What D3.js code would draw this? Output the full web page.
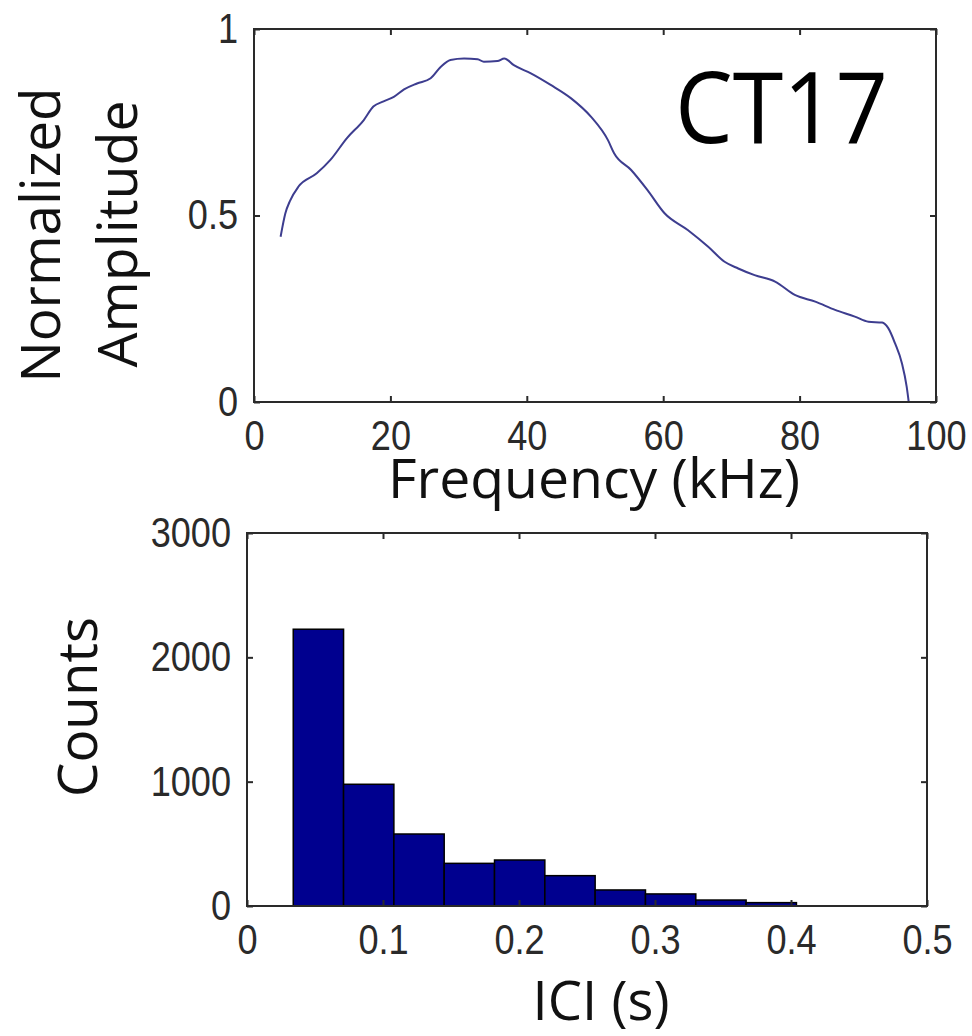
<!DOCTYPE html>
<html>
<head>
<meta charset="utf-8">
<script src="https://cdn.jsdelivr.net/npm/d3@7"></script>
<style>
  html, body { margin: 0; padding: 0; background: #fff; }
  svg { display: block; }
</style>
</head>
<body>
<svg id="chart" width="972" height="1036"></svg>
<script>
// ---------- data ----------
const freqKHz = [3.9, 4.6, 5.3, 6.5, 9.2, 11.2, 13.6, 16.1, 17.5, 19, 20.5, 22, 23.9, 25.9, 27.4, 28.8, 30.8, 32.8, 33.7, 35.7, 36.7, 38.1, 40.6, 43.5, 46.5, 49.4, 51.9, 52.8, 55.3, 57.7, 60.2, 63.6, 66.6, 69, 71, 73.4, 76.4, 79.3, 82.3, 85.2, 88.1, 90.1, 92.1, 93, 94, 95, 95.7, 96];
const amplitude = [0.443, 0.506, 0.54, 0.577, 0.613, 0.649, 0.707, 0.756, 0.792, 0.806, 0.818, 0.838, 0.854, 0.868, 0.899, 0.917, 0.921, 0.919, 0.912, 0.914, 0.921, 0.903, 0.881, 0.85, 0.814, 0.765, 0.702, 0.667, 0.622, 0.568, 0.506, 0.461, 0.416, 0.376, 0.358, 0.34, 0.323, 0.287, 0.269, 0.247, 0.229, 0.215, 0.213, 0.198, 0.157, 0.104, 0.041, 0.0];

const iciBinStart = [0.034, 0.071, 0.108, 0.145, 0.182, 0.219, 0.256, 0.293, 0.330, 0.367];
const iciBinEnd   = [0.071, 0.108, 0.145, 0.182, 0.219, 0.256, 0.293, 0.330, 0.367, 0.404];
const iciCounts   = [2226, 979, 579, 343, 370, 244, 129, 97, 48, 27];

const freqTicks = [0, 20, 40, 60, 80, 100];
const ampTicks = [0, 0.5, 1];
const iciTicks = [0, 0.1, 0.2, 0.3, 0.4, 0.5];
const countTicks = [0, 1000, 2000, 3000];

const titleText = "CT17";

// ---------- layout ----------
const svg = d3.select("#chart");
const TICK_FONT = "'Liberation Sans Narrow', 'Liberation Sans', Arial, sans-serif";
const LABEL_FONT = "'Open Sans', 'Noto Sans', sans-serif";

function drawFrame(g, x, y, xTicks, yTicks, xFmt, yFmt) {
  const [x0, x1] = x.range();
  const [y0, y1] = y.range(); // y0 bottom, y1 top
  const styleAxis = sel => {
    sel.select(".domain").remove();
    sel.selectAll("line").attr("stroke", "#2a2a2a").attr("stroke-width", 2);
    sel.selectAll("text")
      .attr("font-family", TICK_FONT)
      .attr("font-size", 42)
      .attr("fill", "#2a2a2a")
      .each(function () {
        const w = this.getComputedTextLength();
        if (w > 0) {
          d3.select(this)
            .attr("textLength", w * 0.86)
            .attr("lengthAdjust", "spacingAndGlyphs");
        }
      });
  };
  g.append("g").attr("transform", `translate(0,${y0})`)
    .call(d3.axisBottom(x).tickValues(xTicks).tickFormat(xFmt).tickSize(-6).tickPadding(18))
    .call(styleAxis);
  g.append("g").attr("transform", `translate(0,${y1})`)
    .call(d3.axisTop(x).tickValues(xTicks).tickFormat("").tickSize(-6))
    .call(styleAxis);
  g.append("g").attr("transform", `translate(${x0},0)`)
    .call(d3.axisLeft(y).tickValues(yTicks).tickFormat(yFmt).tickSize(-6).tickPadding(16))
    .call(styleAxis);
  g.append("g").attr("transform", `translate(${x1},0)`)
    .call(d3.axisRight(y).tickValues(yTicks).tickFormat("").tickSize(-6))
    .call(styleAxis);
  g.append("rect")
    .attr("x", x0).attr("y", y1)
    .attr("width", x1 - x0).attr("height", y0 - y1)
    .attr("fill", "none").attr("stroke", "#2a2a2a").attr("stroke-width", 2);
}

// ---------- top panel: spectrum ----------
const xF = d3.scaleLinear().domain([0, 100]).range([254, 936]);
const yA = d3.scaleLinear().domain([0, 1]).range([402, 29]);
const topG = svg.append("g");

const spec = freqKHz.map((f, i) => ({ f, a: amplitude[i] }));
topG.append("path")
  .datum(spec)
  .attr("fill", "none")
  .attr("stroke", "#3d3d8f")
  .attr("stroke-width", 2)
  .attr("stroke-linejoin", "round")
  .attr("d", d3.line().x(d => xF(d.f)).y(d => yA(d.a)).curve(d3.curveMonotoneX));

drawFrame(topG, xF, yA, freqTicks, ampTicks, d3.format("d"), d => d === 0.5 ? "0.5" : String(d));

topG.append("text")
  .attr("x", 675).attr("y", 143)
  .attr("font-family", LABEL_FONT).attr("font-size", 98)
  .attr("textLength", 213).attr("lengthAdjust", "spacingAndGlyphs")
  .attr("fill", "#000")
  .text(titleText);

topG.append("text")
  .attr("transform", "translate(60,235) rotate(-90)")
  .attr("text-anchor", "middle")
  .attr("font-family", LABEL_FONT).attr("font-size", 55)
  .attr("textLength", 295).attr("lengthAdjust", "spacingAndGlyphs")
  .attr("fill", "#111")
  .text("Normalized");
topG.append("text")
  .attr("transform", "translate(137,234) rotate(-90)")
  .attr("text-anchor", "middle")
  .attr("font-family", LABEL_FONT).attr("font-size", 55)
  .attr("textLength", 267).attr("lengthAdjust", "spacingAndGlyphs")
  .attr("fill", "#111")
  .text("Amplitude");
topG.append("text")
  .attr("x", 594).attr("y", 498)
  .attr("text-anchor", "middle")
  .attr("font-family", LABEL_FONT).attr("font-size", 55)
  .attr("textLength", 412).attr("lengthAdjust", "spacingAndGlyphs")
  .attr("fill", "#111")
  .text("Frequency (kHz)");

// ---------- bottom panel: ICI histogram ----------
const xI = d3.scaleLinear().domain([0, 0.5]).range([247, 927]);
const yC = d3.scaleLinear().domain([0, 3000]).range([906, 533]);
const botG = svg.append("g");

const bins = iciCounts.map((c, i) => ({ s: iciBinStart[i], e: iciBinEnd[i], c }));
botG.selectAll("rect.bar")
  .data(bins)
  .join("rect")
  .attr("class", "bar")
  .attr("x", d => xI(d.s))
  .attr("y", d => yC(d.c))
  .attr("width", d => xI(d.e) - xI(d.s))
  .attr("height", d => yC(0) - yC(d.c))
  .attr("fill", "#00008f")
  .attr("stroke", "#000")
  .attr("stroke-width", 1.5);

drawFrame(botG, xI, yC, iciTicks, countTicks, d => d === 0 ? "0" : d3.format(".1f")(d), d3.format("d"));

botG.append("text")
  .attr("transform", "translate(97,707) rotate(-90)")
  .attr("text-anchor", "middle")
  .attr("font-family", LABEL_FONT).attr("font-size", 55)
  .attr("textLength", 180).attr("lengthAdjust", "spacingAndGlyphs")
  .attr("fill", "#111")
  .text("Counts");
botG.append("text")
  .attr("x", 601).attr("y", 1020)
  .attr("text-anchor", "middle")
  .attr("font-family", LABEL_FONT).attr("font-size", 55)
  .attr("textLength", 137).attr("lengthAdjust", "spacingAndGlyphs")
  .attr("fill", "#111")
  .text("ICI (s)");
</script>
</body>
</html>
